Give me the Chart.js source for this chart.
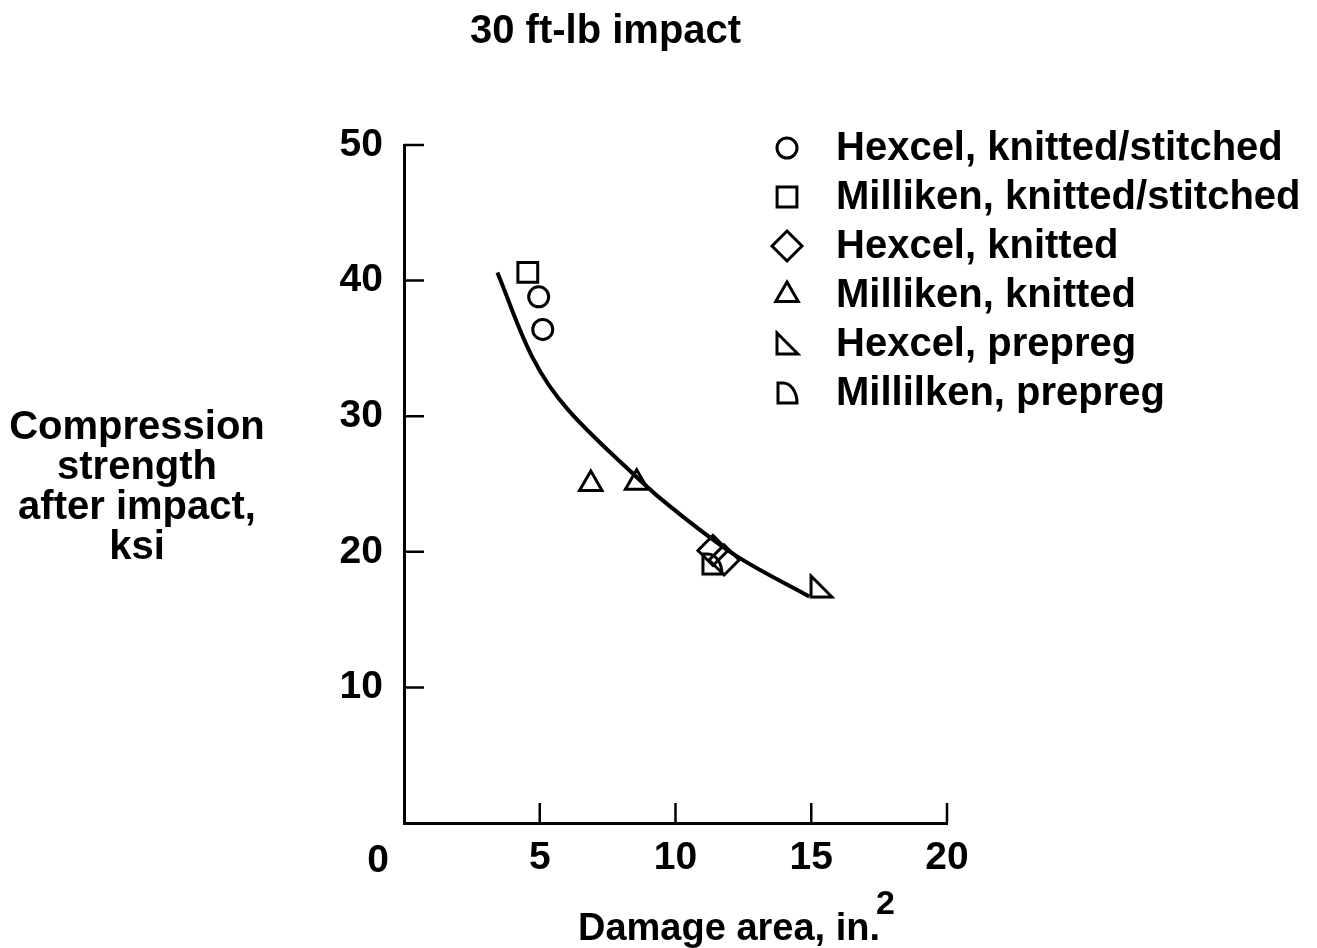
<!DOCTYPE html>
<html>
<head>
<meta charset="utf-8">
<title>30 ft-lb impact</title>
<script src="https://cdn.jsdelivr.net/npm/chart.js@4.4.1/dist/chart.umd.min.js"></script>
<style>
  html, body { margin: 0; padding: 0; background: #fff; }
  #wrap { width: 1317px; height: 948px; position: relative; }
</style>
</head>
<body>
<div id="wrap"><canvas id="chart" width="1317" height="948"></canvas></div>
<script>
"use strict";

// tick values
const xTickValues = [0, 5, 10, 15, 20];
const yTickValues = [0, 10, 20, 30, 40, 50];

// test data (damage area in.^2, strength ksi)
const hexcelStitchedX = [4.96, 5.11];
const hexcelStitchedY = [38.8, 36.4];
const millikenStitchedX = [4.56];
const millikenStitchedY = [40.6];
const hexcelKnittedX = [11.38, 11.79];
const hexcelKnittedY = [20.1, 19.4];
const millikenKnittedX = [6.88, 8.57];
const millikenKnittedY = [25.0, 25.1];
const hexcelPrepregX = [15.36];
const hexcelPrepregY = [17.4];
const millikenPrepregX = [11.34];
const millikenPrepregY = [19.1];

// fitted curve, read point by point
const curveX = [3.44, 4.74, 6.03, 8.68, 9.89, 12.24, 14.93];
const curveY = [40.6, 34.3, 30.5, 25.3, 23.2, 19.7, 16.7];

const seriesLabels = [
    "Hexcel, knitted/stitched",
    "Milliken, knitted/stitched",
    "Hexcel, knitted",
    "Milliken, knitted",
    "Hexcel, prepreg",
    "Millilken, prepreg"
];

const FONT = "'Liberation Sans', Arial, Helvetica, sans-serif";

function pairs(xs, ys) {
    return xs.map(function (x, i) { return { x: x, y: ys[i] }; });
}

// right triangle marker
function makeRightTri() {
    const c = document.createElement("canvas");
    c.width = 28; c.height = 28;
    const g = c.getContext("2d");
    g.strokeStyle = "#000";
    g.lineWidth = 3;
    g.beginPath();
    g.moveTo(4, 3);
    g.lineTo(4, 24);
    g.lineTo(25, 24);
    g.closePath();
    g.stroke();
    return c;
}

// "D" shaped marker
function makeDShape() {
    const c = document.createElement("canvas");
    c.width = 28; c.height = 28;
    const g = c.getContext("2d");
    g.strokeStyle = "#000";
    g.lineWidth = 3;
    g.beginPath();
    g.moveTo(5, 24);
    g.lineTo(5, 4);
    g.lineTo(10, 4);
    g.bezierCurveTo(18, 4, 24, 13, 24, 24);
    g.closePath();
    g.stroke();
    return c;
}

const rightTri = makeRightTri();
const dShape = makeDShape();

function markerSet(label, xs, ys, style, radius) {
    return {
        type: "scatter",
        label: label,
        data: pairs(xs, ys),
        pointStyle: style,
        pointRadius: radius,
        pointHoverRadius: radius,
        pointBorderWidth: 3,
        borderColor: "#000",
        backgroundColor: "rgba(0,0,0,0)",
        showLine: false
    };
}

const datasets = [
    {
        type: "line",
        label: "fit",
        data: pairs(curveX, curveY),
        borderColor: "#000",
        borderWidth: 4,
        pointRadius: 0,
        fill: false,
        tension: 0.35
    },
    markerSet(seriesLabels[0], hexcelStitchedX, hexcelStitchedY, "circle", 10),
    markerSet(seriesLabels[1], millikenStitchedX, millikenStitchedY, "rect", 14),
    markerSet(seriesLabels[2], hexcelKnittedX, hexcelKnittedY, "rectRot", 15),
    markerSet(seriesLabels[3], millikenKnittedX, millikenKnittedY, "triangle", 13),
    markerSet(seriesLabels[4], hexcelPrepregX, hexcelPrepregY, rightTri, 12),
    markerSet(seriesLabels[5], millikenPrepregX, millikenPrepregY, dShape, 12)
];

// titles, inward ticks, "0" label and legend
const decorPlugin = {
    id: "decor",
    afterDraw: function (chart) {
        const ctx = chart.ctx;
        const xs = chart.scales.x;
        const ys = chart.scales.y;
        ctx.save();
        ctx.strokeStyle = "#000";
        ctx.lineWidth = 2.5;
        ctx.beginPath();
        xTickValues.forEach(function (v) {
            if (v === 0) return;
            const px = xs.getPixelForValue(v);
            ctx.moveTo(px, xs.top);
            ctx.lineTo(px, xs.top - 20);
        });
        yTickValues.forEach(function (v) {
            if (v === 0) return;
            const py = ys.getPixelForValue(v);
            ctx.moveTo(ys.right, py);
            ctx.lineTo(ys.right + 20, py);
        });
        ctx.stroke();

        ctx.fillStyle = "#000";
        // origin label sits left of the corner
        ctx.font = "bold 39px " + FONT;
        ctx.textAlign = "center";
        ctx.textBaseline = "alphabetic";
        ctx.fillText("0", xs.getPixelForValue(0) - 26, 872);

        ctx.font = "bold 40px " + FONT;
        ctx.textAlign = "left";
        ctx.fillText("30 ft-lb impact", 470, 43);

        // y title, horizontal, four lines
        const yTitle = ["Compression", "strength", "after impact,", "ksi"];
        ctx.textAlign = "center";
        yTitle.forEach(function (t, i) {
            ctx.fillText(t, 137, 439 + i * 40);
        });

        // x title with superscript
        ctx.font = "bold 38px " + FONT;
        ctx.textAlign = "left";
        ctx.fillText("Damage area, in.", 578, 940);
        ctx.font = "bold 34px " + FONT;
        ctx.fillText("2", 876, 914);

        // legend
        const lx = 787, tx = 836, ly0 = 148, step = 49;
        let row = 0;
        chart.data.datasets.forEach(function (ds) {
            if (ds.label === "fit") return;
            const y = ly0 + row * step;
            ctx.strokeStyle = "#000";
            ctx.fillStyle = "rgba(0,0,0,0)";
            ctx.lineWidth = 3;
            Chart.helpers.drawPoint(ctx, {
                pointStyle: ds.pointStyle,
                radius: ds.pointRadius,
                rotation: 0,
                borderWidth: 3
            }, lx, y);
            ctx.fillStyle = "#000";
            ctx.font = "bold 40px " + FONT;
            ctx.textBaseline = "middle";
            ctx.fillText(ds.label, tx, y + 1);
            row++;
        });
        ctx.restore();
    }
};

const chart = new Chart(document.getElementById("chart"), {
    data: { datasets: datasets },
    options: {
        responsive: false,
        animation: false,
        events: [],
        layout: { padding: { left: 0, top: 145, right: 370, bottom: 0 } },
        plugins: {
            legend: { display: false },
            title: { display: false },
            tooltip: { enabled: false }
        },
        scales: {
            x: {
                type: "linear",
                min: 0,
                max: 20,
                afterFit: function (s) { s.height = 125; },
                afterBuildTicks: function (s) {
                    s.ticks = xTickValues.map(function (v) { return { value: v }; });
                },
                grid: { display: false, drawTicks: false },
                border: { display: true, color: "#000", width: 3 },
                ticks: {
                    color: "#000",
                    padding: 12,
                    font: { family: FONT, size: 39, weight: "bold" },
                    callback: function (v) { return v === 0 ? "" : v; }
                }
            },
            y: {
                type: "linear",
                min: 0,
                max: 50,
                afterFit: function (s) { s.width = 404; },
                afterBuildTicks: function (s) {
                    s.ticks = yTickValues.map(function (v) { return { value: v }; });
                },
                grid: { display: false, drawTicks: false },
                border: { display: true, color: "#000", width: 3 },
                ticks: {
                    color: "#000",
                    padding: 21,
                    font: { family: FONT, size: 39, weight: "bold" },
                    callback: function (v) { return v === 0 ? "" : v; }
                }
            }
        }
    },
    plugins: [decorPlugin]
});
</script>
</body>
</html>
